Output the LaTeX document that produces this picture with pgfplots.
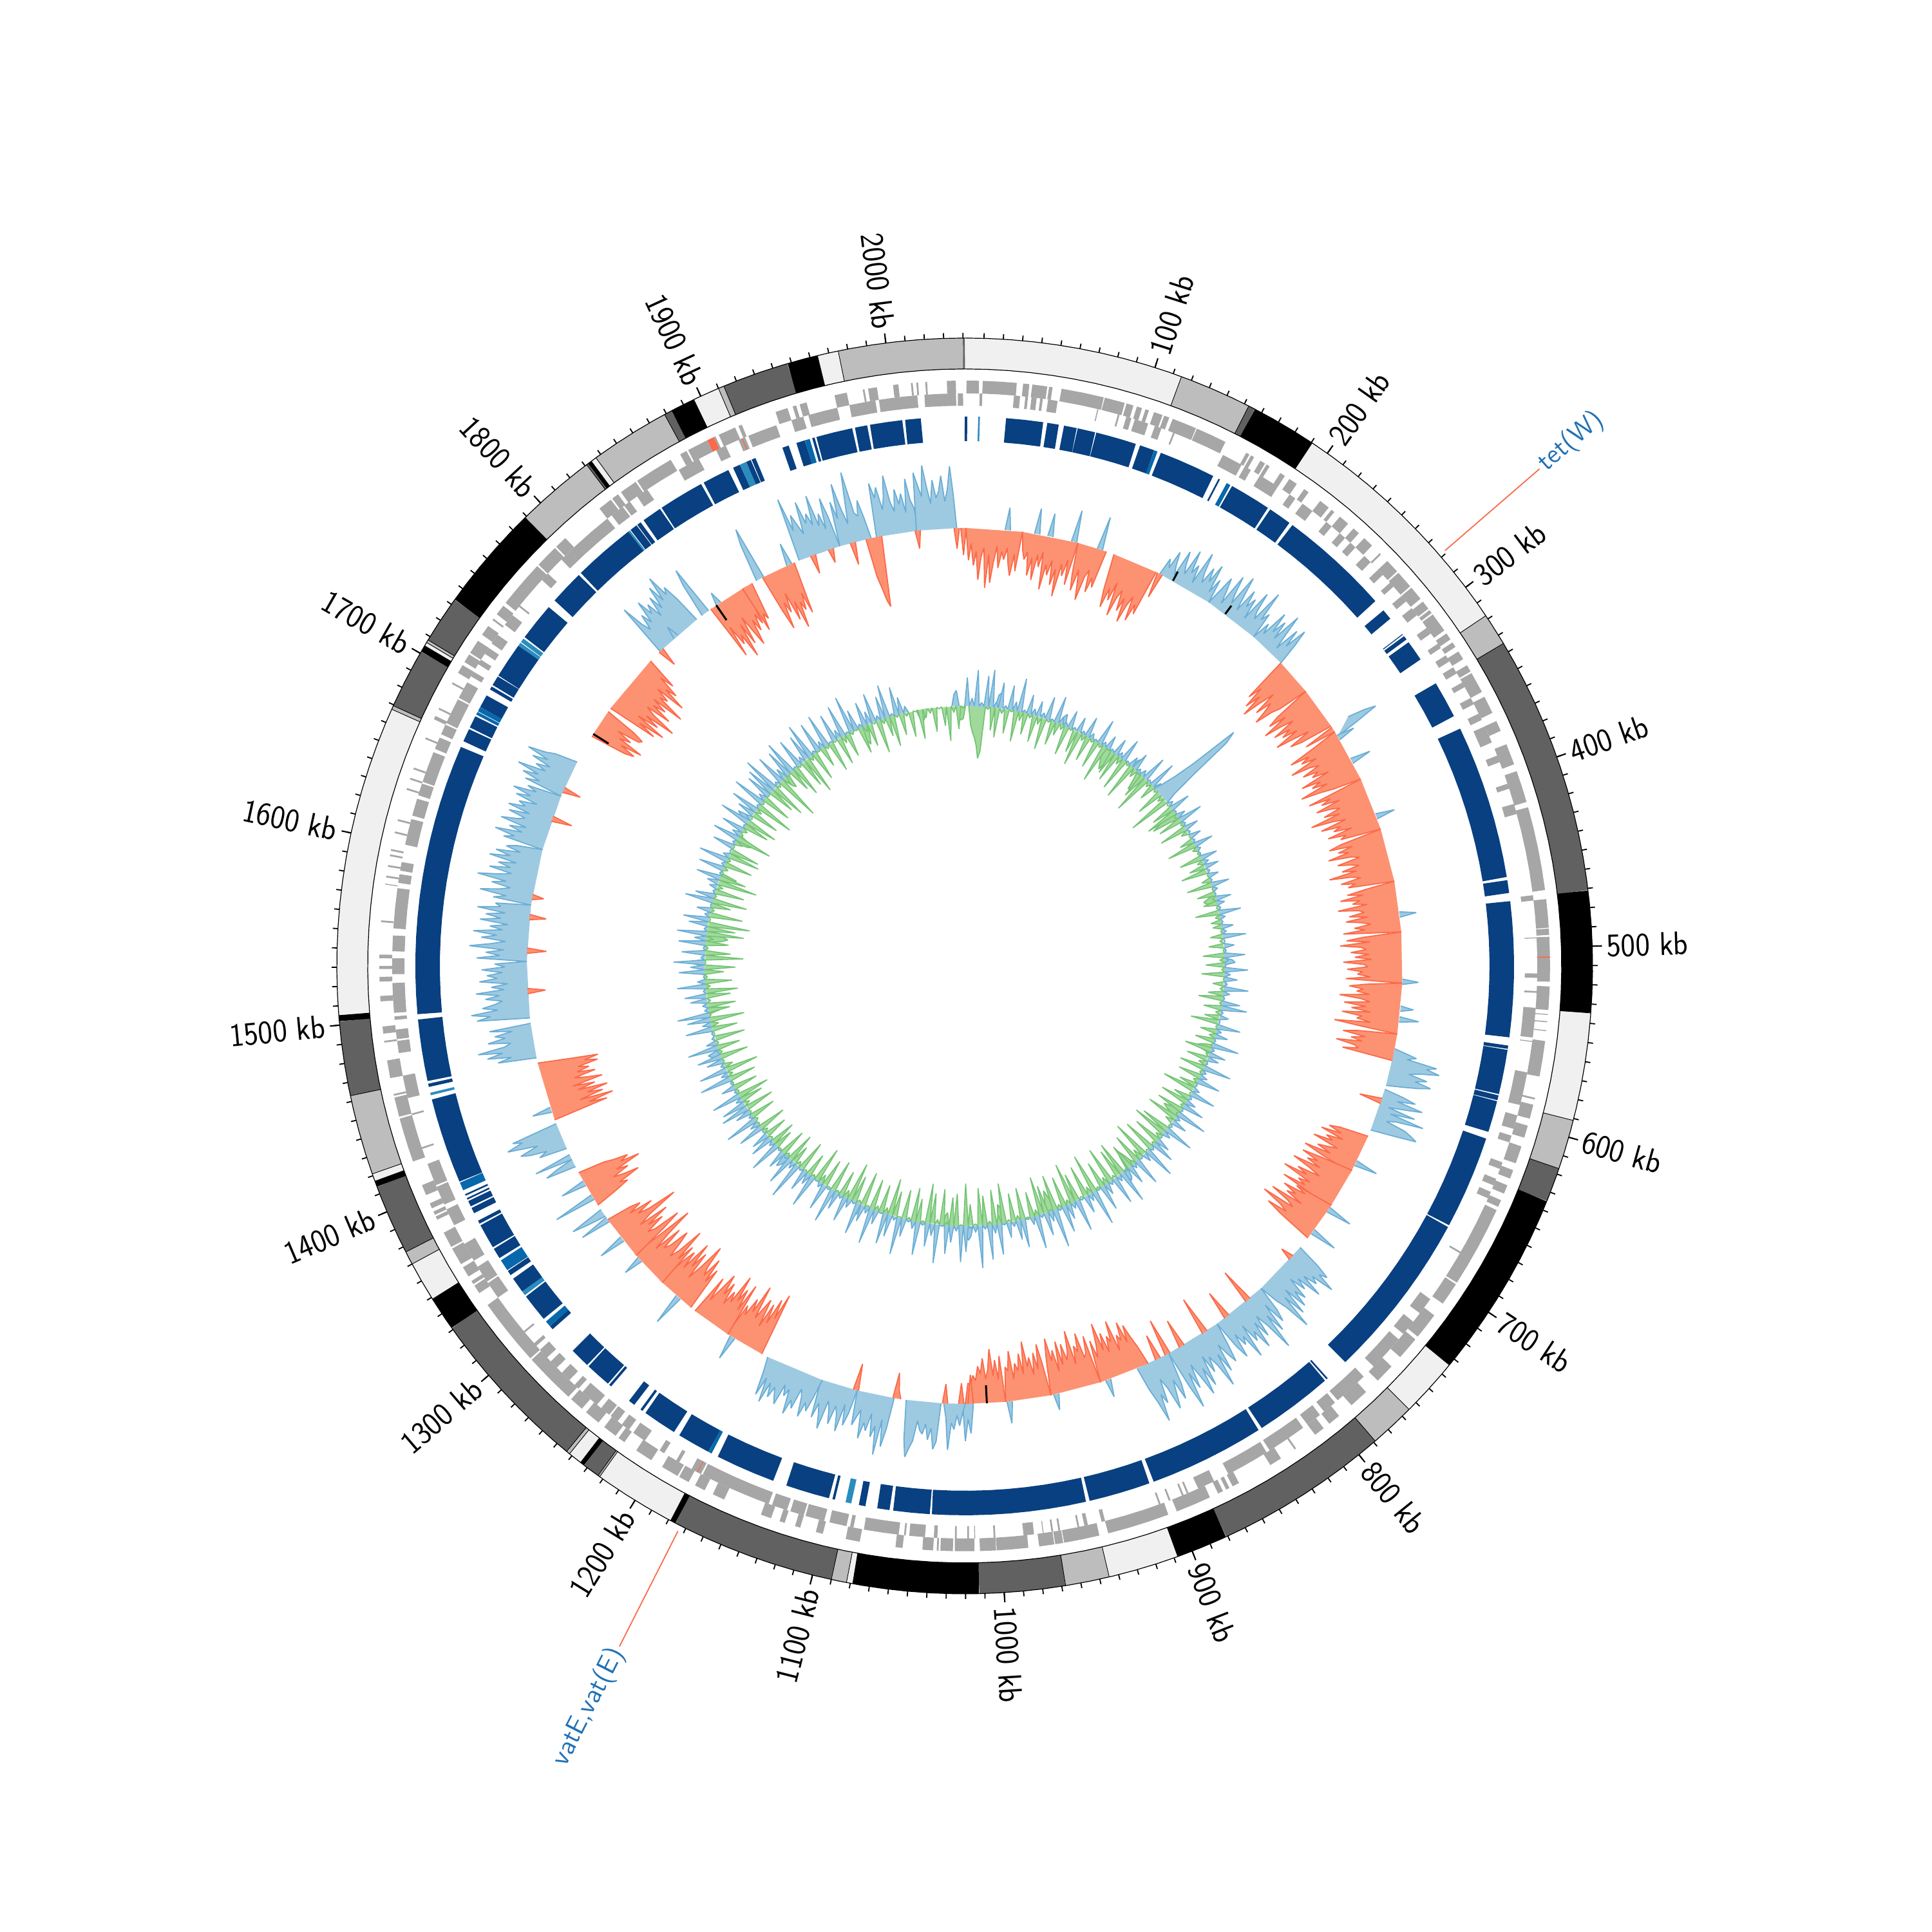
\documentclass[border=0pt]{standalone}
\usepackage{fontspec}
\usepackage{pgfplots}
\pgfplotsset{compat=1.18}
\usepgfplotslibrary{polar}
\def\k{0.176384}
\definecolor{bD}{HTML}{084081}\definecolor{bM}{HTML}{0868AC}\definecolor{bL}{HTML}{2B8CBE}
\definecolor{gene}{HTML}{A6A6A6}\definecolor{lbl}{HTML}{2171B5}
\definecolor{rF}{HTML}{FC9272}\definecolor{rL}{HTML}{FB6A4A}
\definecolor{uF}{HTML}{9ECAE1}\definecolor{uL}{HTML}{6BAED6}
\definecolor{gF}{HTML}{A1D99B}\definecolor{gL}{HTML}{74C476}
\def\collect#1 {\ifx e#1\else\pgfmathsetmacro\aa{90-\xx*\k}\pgfmathsetmacro\rr{\bb+\ss*#1}\xdef\lst{\lst(\aa,\rr)}\global\let\lastx\xx\pgfmathsetmacro\xx{\xx+\stp}\expandafter\collect\fi}
\newcommand\spk[6]{\xdef\lst{}\edef\bb{#1}\edef\ss{#2}\pgfmathsetmacro\xx{#5}\collect#6 e \edef\tmp{\noexpand\addplot[draw=#4,fill=#3,line width=.6pt,line join=bevel] coordinates {\lst};}\tmp}
\def\collz#1 {\ifx e#1\else\pgfmathsetmacro\aa{90-\xx*\k}\pgfmathsetmacro\rr{\bb+\ss*#1}\pgfmathsetmacro\xx{\xx+\stp}\pgfmathsetmacro\ab{90-\xx*\k}\xdef\lst{\lst(\aa,\rr)(\ab,\bb)}\global\let\lastx\xx\pgfmathsetmacro\xx{\xx+\stp}\expandafter\collz\fi}
\newcommand\spz[6]{\edef\bb{#1}\edef\ss{#2}\pgfmathsetmacro\xx{#5}\pgfmathsetmacro\aa{90-\xx*\k}\xdef\lst{(\aa,\bb)}\pgfmathsetmacro\xx{\xx+\stp}\collz#6 e \edef\tmp{\noexpand\addplot[draw=#4,fill=#3,line width=.55pt,line join=bevel] coordinates {\lst};}\tmp}
\newcommand\Rr[2]{\def\stp{2}\spk{680}{-1}{rF}{rL}{#1}{#2}}
\newcommand\Br[2]{\def\stp{2}\spk{680}{1}{uF}{uL}{#1}{#2}}
\newcommand\Ui[2]{\def\stp{3}\spk{404}{1}{uF}{uL}{#1}{#2}}
\newcommand\Gi[2]{\def\stp{3}\spk{404}{-1}{gF}{gL}{#1}{#2}}
\newcommand\Uz[2]{\def\stp{3}\spz{404}{1}{uF}{uL}{#1}{#2}}
\newcommand\Gz[2]{\def\stp{3}\spz{404}{-1}{gF}{gL}{#1}{#2}}
\def\blkc#1 #2 {\ifx e#1\else\pgfmathtruncatemacro\nn{max(1,ceil((#2-#1)/12))}\foreach\i in {0,...,\nn}{\pgfmathsetmacro\aa{90-(#1+(#2-#1)/\nn*\i)*\k}\xdef\lst{\lst(\aa,\RR)}}\xdef\lst{\lst(nan,nan)}\expandafter\blkc\fi}
\newcommand\blk[4]{\xdef\lst{}\edef\RR{#1}\blkc#4 e e \edef\tmp{\noexpand\addplot[draw=#3,line width=#2,line cap=butt] coordinates {\lst};}\tmp}
\def\radc#1 {\ifx e#1\else\pgfmathsetmacro\aa{90-#1*\k}\xdef\lst{\lst(\aa,\RA)(\aa,\RB)(nan,nan)}\expandafter\radc\fi}
\newcommand\rad[5]{\xdef\lst{}\edef\RA{#1}\edef\RB{#2}\radc#5 e \edef\tmp{\noexpand\addplot[draw=#4,line width=#3,line cap=butt] coordinates {\lst};}\tmp}
\newcommand\labR[1]{\pgfmathsetmacro\th{90-#1*\k}\edef\tmp{\noexpand\node[inner sep=0pt,anchor=west,rotate=\th] at (axis cs:\th,997) {\noexpand\sffamily\noexpand\fontsize{17}{18}\noexpand\selectfont\noexpand\scalebox{.93}[1]{#1 kb}};}\tmp}
\newcommand\labL[1]{\pgfmathsetmacro\th{90-#1*\k}\pgfmathsetmacro\tr{\th+180}\edef\tmp{\noexpand\node[inner sep=0pt,anchor=east,rotate=\tr] at (axis cs:\th,997) {\noexpand\sffamily\noexpand\fontsize{17}{18}\noexpand\selectfont\noexpand\scalebox{.93}[1]{#1 kb}};}\tmp}
\begin{document}
\begin{tikzpicture}
\begin{polaraxis}[hide axis,scale only axis,width=650pt,height=650pt,xmin=0,xmax=360,ymin=0,ymax=975,clip=false,unbounded coords=jump]
% ideogram bands
\blk{951}{16pt}{black!6}{0 114.5 190.5 318 534.6 591 734 765 908 945 1079 1082 1179 1222 1234.5 1241.6 1349 1370 1417 1421 1505 1667.5 1704.5 1706.5 1834 1837 1896 1910 1964 1975}
\blk{951}{16pt}{black!26}{114.5 152.5 318 335 591 617 765 789 945 968 1082 1090 1222 1223 1241.6 1243.5 1370 1377 1421 1463 1667.5 1669.5 1706.5 1708 1789 1831 1837 1879 1910 1913 1975 2040}
\blk{951}{16pt}{black!62}{152.5 156 335 471 617 635 789 881 968 1013 1090 1176 1223 1232 1243.5 1331 1377 1414 1463 1502 1669.5 1701 1708 1733 1831 1832 1879 1883 1913 1948 2040 2041}
\blk{951}{16pt}{black}{156 190.5 471 534.6 635 734 881 908 1013 1079 1176 1179 1232 1234.5 1331 1349 1414 1417 1502 1505 1701 1704.5 1733 1789 1832 1834 1883 1896 1948 1964}
\rad{927}{975}{.3pt}{black}{114.5 152.5 190.5 318 335 534.6 591 617 734 765 789 908 945 968 1082 1090 1222 1223 1241.6 1243.5 1349 1370 1377 1417 1421 1463 1505 1667.5 1669.5 1704.5 1706.5 1708 1789 1831 1834 1837 1879 1896 1910 1913 1964 1975}
\blk{975}{.4pt}{black}{0 2041}
\blk{927}{.4pt}{black}{0 2041}
% ticks
\xdef\lst{}\foreach\t in {10,20,...,2040}{\pgfmathsetmacro\aa{90-\t*\k}\xdef\lst{\lst(\aa,975)(\aa,983)(nan,nan)}}
\edef\tmp{\noexpand\addplot[draw=black,line width=.6pt] coordinates {\lst};}\tmp
\rad{975}{990}{.7pt}{black}{100 200 300 400 500 600 700 800 900 1000 1100 1200 1300 1400 1500 1600 1700 1800 1900 2000}
\labR{100}\labR{200}\labR{300}\labR{400}\labR{500}\labR{600}\labR{700}\labR{800}\labR{900}\labR{1000}
\labL{1100}\labL{1200}\labL{1300}\labL{1400}\labL{1500}\labL{1600}\labL{1700}\labL{1800}\labL{1900}\labL{2000}
% genes outer strand
\blk{899}{6.6pt}{gene}{1 8 10 29 32.5 36 37.6 46 47 49 54 78 78.5 90 91 95 97 100 102 104 107 112 113 116 118 132 132.5 150 163 165 166 168 172 175 176 178 185 188 191 196 201 204 212 218 220 222 226 232 236 240 244 250 256 257 262 270 271 281 282 290 292 297 298 300 301 312 314 318 320 323 326 331 335 339 340 352 355 365 370 376 384 396 400 418 421 468 473 489 489.5 493 494 519 521.6 534.7 537 537.5 541 541.6 546 546.5 552 572 584 585 588 596 600 607 612 622 626 631 635 640 644 648 650 696 697 710 718 733 735 748 755 766 775 786 795 802 806 812 825 826 835 842 862 866 868 870 872 875 880 900 905 940 945 965 965.5 970 970.5 979 985 1002.7 1003 1012 1015 1026 1027 1034 1035 1036 1038 1044 1055 1059 1079 1087 1100 1104 1113 1116 1122 1125 1130 1136 1158 1165 1170 1176 1180 1186 1187 1197 1204 1214 1222 1226 1228 1236 1240 1249 1252 1260 1262 1275 1275 1291 1292 1303 1303 1312 1312 1330 1338 1343 1344 1346 1349 1355 1357 1367 1368 1377 1385 1387 1388 1390 1392 1395 1400 1406 1420 1445 1446 1457 1458 1459 1468 1478 1488 1489 1493 1497 1511 1514 1522 1524.6 1529 1530.7 1535 1537 1555 1556 1576 1576.5 1580 1581 1586 1587 1592 1593 1595 1596 1605 1606 1612 1613 1630 1631 1636 1637 1642 1643 1660 1661 1672 1674 1678 1679 1694 1695 1701 1706 1708 1713 1714 1722 1726 1732 1736 1737 1740 1746 1748 1775 1776 1789 1790 1797 1822 1830 1831 1835 1837 1847 1848 1870 1876 1880 1881 1893 1897 1898 1900 1910 1912 1914 1934 1941 1944 1946 1948 1952 1968 1975 1984 1985 1987 1992 2001 2004 2011 2012 2014 2015 2019 2020 2031 2036}
% genes inner strand
\blk{879.5}{6.4pt}{gene}{8.5 10 28 31.5 34.5 36 38 41 43 44.5 47.5 53 76 76.6 88 89 93 96 98 106 110 114 121 122 152 164 166 170 176 188 196 200 205 212 222 226 232 236 240 244 251 256 262 266 272 275 282 286 291 296 305 309 316 319 324 328 332 336 342 345 352 356 362 366 370 380 388 392 405 408 417 423 470 473 494 494.5 514.5 517 524.5 525.5 534 551 553 553.5 571 590 596 604 608 612 624 628 634 638 642 646 680 681 712 722 728 737 741 762 770 790 792 800 803 812 815 838 840 865 874 884 890 891 893 894 901 902 907 908 940 942 950 952 955 956 966 967 970 971 975.5 976 981 987 1003 1004 1014.5 1015 1018 1019 1025 1026 1036 1038 1043 1052 1054 1055 1058 1078 1084 1086 1088 1098 1101 1112 1113 1121 1123 1132 1134 1148 1148 1175 1176 1182 1190 1192 1200 1203 1213 1221 1224 1229 1232 1237 1238 1244 1247 1258 1261 1264 1268 1274 1278 1283 1286 1292 1295 1297 1305 1306 1330 1340 1341 1351 1355 1366 1378 1388 1391 1402 1403 1416 1425 1426 1445 1446 1455 1460 1460 1468 1481 1488 1489 1494.5 1500 1502 1504 1521 1526 1535 1539 1548 1552 1575 1578 1583 1585 1590 1600 1615 1617 1627 1629 1636 1637 1655 1657 1664 1666 1672 1673 1688 1689 1699 1703 1706 1711 1714 1718 1722 1725 1731 1738 1745 1751 1752 1771 1776 1787 1822 1825 1833 1834 1838 1843 1850 1871 1879 1879 1884 1895 1901 1909 1913 1915 1932 1941 1948 1951 1968 1975 1986 1986 1990 1992 2006 2006 2014 2018 2036 2037 2040}
\blk{899}{6.6pt}{rL}{505 505.7 1893 1897}
\blk{879.5}{6.4pt}{rL}{1178 1178.5 1911 1911.5}
% contig blocks
\blk{834}{12.7pt}{bD}{0 1.5 24.4 46.7 49 56 59 66.8 67.2 78 78.5 103 105.5 114.5 118.5 152.6 156 157 165 190 191.5 205.5 207.5 274.4 281.5 288 299.5 300 301 303.5 305.5 318 334.6 357 365 457.5 459.2 467 471.7 552.7 557.5 559.5 560 586.8 587.5 590.5 591 610 614 670 671 772 786 787 788 835 837 906.5 909 946 948 1040 1041 1063 1065 1072.5 1079.5 1083.5 1098 1099.5 1101.5 1128 1136 1172 1178 1198 1201.5 1222 1224 1225.5 1230 1234 1247.5 1249 1250 1265.5 1266.5 1278.6 1296 1298.5 1304 1321 1324.5 1334 1336.5 1339.5 1348.5 1355 1356 1371 1372 1374 1379 1382.5 1383.5 1387 1388 1389 1390.5 1391.5 1399.5 1451 1458.5 1460.5 1462 1499 1502 1664 1667.5 1675.5 1676.5 1684 1690 1698 1702 1704 1705 1711 1711.5 1733 1739 1762 1767 1788 1789.5 1827 1828.5 1833 1833.5 1836 1838 1850 1851 1878.4 1880 1896.5 1899.5 1904 1908 1911 1911.5 1914 1931 1935 1939.7 1945 1949.5 1951 1952 1974 1975.5 1983 1984.5 2004 2005.5 2015}
\blk{834}{12.7pt}{bM}{114.5 116.5 161.5 164 1176 1178 1298.5 1302 1340 1347 1394 1399 1685 1686.8 1687.2 1690 1945 1948}
\blk{834}{12.7pt}{bL}{8 9 1088 1091.5 1322 1324.5 1453.5 1455 1733 1735 1735.5 1738 1827 1828 1904 1908}
% track A: blue outward
\Br{150}{0 28 15 44 22 9 52 30 18 60 25 40 12 66 35 20 48 27 58 14 38 0}
\Br{\lastx}{0 24 50 31 10 62 36 19 70 41 16 55 29 46 13 64 33 22 75 28 42 0}
\Br{\lastx}{0 30 14 58 26 49 20 68 37 12 52 24 60 34 0}
\Br{323}{30 58 75 40 0}
\Br{572}{0 18 36 22 70 55 76 47 30 60 42 68 50 26 0}
\Br{603}{0 30 52 24 66 40 14 58 20 75 32 18 50 62 72 36 0}
\Br{737}{0 40 62 50 80 44 56 34 70 30 48 22 58 40 66 28 72 36 90 48 30 0}
\Br{\lastx}{0 42 60 24 70 38 95 50 28 62 34 76 44 58 26 80 40 52 30 68 46 0}
\Br{\lastx}{0 35 64 48 28 72 40 92 54 36 60 30 78 46 88 56 32 70 42 98 60 0}
\Br{\lastx}{0 50 74 40 62 84 46 30 68 52 94 60 38 0}
\Br{1014}{0 46 24 58 0}
\Br{1020}{0 14 34 18 40 30 72 22 0}
\Br{1038}{0 60 72 40 58 34 50 44 30 62 74 88 60 0}
\Br{1073}{0 50 78 36 92 48 66 30 58 46 72 28 40 54 0}
\Br{1101}{0 38 58 26 70 44 32 62 40 28 74 52 36 60 0}
\Br{1128}{0 30 54 42 66 36 24 58 46 70 32 44 28 62 50 38 56 34 68 30 60 24 0}
\Br{1333}{0 30 55 0}
\Br{1391}{0 44 30 56 70 40 62 86 60 74 0}
\Br{1462}{0 60 38 75 50 88 45 35 70 42 58 30 65 0}
\Br{1492}{0 82 60 90 48 72 52 40 66 44 80 36 56 30 74 46 62 38 70 34 50 0}
\Br{\lastx}{0 78 42 64 36 90 56 34 72 48 85 40 60 32 76 44 68 38 82 46 55 0}
\Br{\lastx}{0 60 40 82 52 36 66 44 90 58 38 74 42 62 34 78 46 70 32 56 40 0}
\Br{\lastx}{0 64 48 80 38 60 34 76 52 40 68 36 72 46 58 30 66 44 74 38 54 0}
\Br{\lastx}{0 62 40 70 46 82 38 56 34 66 42 78 50 36 0}
\Br{1791}{0 85 50 35 60 42 78 52 66 40 72 48 84 56 95 60 70 44 0}
\Br{1832}{0 55 80 0}
\Br{1915}{0 100 46 70 52 36 86 50 64 44 90 40 58 32 80 48 0}
\Br{1947}{0 70 42 96 54 30 68 110 44 38 62 34 0}
\Br{1975}{0 84 60 76 40 58 92 50 34 68 44 60 30 82 48 36 0}
\Br{2005}{0 90 70 52 100 66 40 76 48 58 82 42 60 96 52 0}
% track A: red inward
\Rr{1}{0 50 24 58 36 80 44 30 92 40 84 52 26 60 34 46 28 54 70 36 62 0}
\Rr{\lastx}{0 28 42 30 66 38 72 32 50 26 84 44 60 36 74 48 90 38 56 30 68 0}
\Rr{\lastx}{0 50 74 40 62 86 48 36 70 46 60 0}
\Rr{113}{0 58 84 52 70 40 92 62 48 80 58 95 66 50 88 60 74 0}
\Rr{262}{0 72 50 85 60 96 66 42 80 54 70 90 62 48 0}
\Rr{290}{0 60 78 50 92 64 44 82 56 72 48 88 60 34 70 52 0}
\Rr{327}{0 40 85 55 70 46 92 62 48 78 54 66 40 88 58 74 50 96 66 44 0}
\Rr{\lastx}{0 90 56 72 44 84 60 48 76 52 100 66 46 88 58 70 42 82 54 64 0}
\Rr{\lastx}{0 66 86 50 74 58 92 56 44 80 62 48 76 54 98 64 50 82 60 72 0}
\Rr{\lastx}{0 46 76 52 88 58 70 48 94 62 54 78 50 84 60 46 72 56 90 0}
\Rr{\lastx}{0 60 86 50 96 64 56 80 52 74 48 92 60 54 86 62 70 50 88 0}
\Rr{\lastx}{0 56 82 60 70 50 96 62 48 88 54 76 46 90 58 66 44 100 60 0}
\Rr{\lastx}{0 60 84 48 70 52 92 62 56 80 0}
\Rr{640}{0 46 62 40 72 34 60 48 78 36 50 66 42 84 56 0}
\Rr{668}{0 50 82 54 70 46 90 60 40 76 58 96 48 66 52 88 0}
\Rr{698}{0 62 44 80 56 70 40 92 60 48 100 66 52 84 58 0}
\Rr{880}{0 30 48 70 44 78 50 60 36 86 54 64 40 72 46 90 58 38 66 0}
\Rr{\lastx}{0 76 50 44 84 56 66 38 92 60 48 74 42 80 34 68 52 88 58 0}
\Rr{\lastx}{0 52 82 44 70 36 64 50 90 40 72 46 58 34 78 48 54 0}
\Rr{\lastx}{0 72 36 66 42 84 52 38 70 46 58 36 44 30 32 0}
\Rr{1177}{0 100 58 88 46 76 36 80 62 44 96 50 70 40 54 0}
\Rr{1206}{0 86 40 74 52 92 44 60 36 70 48 80 54 28 66 0}
\Rr{1240}{0 70 46 84 52 66 100 60 34 78 50 90 40 68 48 0}
\Rr{1268}{0 72 44 96 54 38 64 82 50 40 76 30 60 104 46 0}
\Rr{1296}{0 60 92 50 38 70 46 84 36 58 108 62 44 72 34 56 40 0}
\Rr{1343}{0 36 60 48 84 60 44 72 54 96 66 80 58 42 0}
\Rr{1414}{0 88 60 100 48 86 62 96 50 78 44 92 68 50 84 56 76 60 92 72 94 48 0}
\Rr{1710}{0 58 72 46 80 38 56 30 66 70 52 0}
\Rr{1735}{0 80 50 92 42 76 52 100 60 44 84 50 70 44 96 50 62 38 86 48 66 30 52 0}
\Rr{1840}{0 90 40 74 60 100 46 82 38 66 90 50 70 44 62 0}
\Rr{1868}{0 76 50 60 0}
\Rr{1885}{0 60 92 50 68 38 84 56 100 60 74 48 82 0}
\Rr{1967}{0 60 80 100 110 60 0}
% small opposite spikes
\Rr{148}{0 40 0}\Rr{323}{0 50 0}\Rr{610}{0 35 0}\Rr{745}{0 20 0}\Rr{790}{0 55 0}\Rr{810}{0 45 0}\Rr{830}{0 60 0}\Rr{850}{0 45 0}\Rr{862}{0 58 0}\Rr{870}{0 40 0}\Rr{1014}{0 45 0}\Rr{1021}{0 32 0}\Rr{1033}{0 30 0}\Rr{1068}{0 12 40 0}\Rr{1100}{0 42 0}\Rr{1510}{0 28 0}\Rr{1540}{0 30 0}\Rr{1565}{0 26 0}\Rr{1580}{0 18 0}\Rr{1640}{0 32 0}\Rr{1663}{0 28 0}\Rr{1790}{0 30 0}\Rr{1924}{0 30 0}\Rr{1938}{0 22 0}\Rr{1955}{0 35 0}\Rr{2004}{0 28 0}\Rr{2033}{0 32 0}\Rr{2038}{0 42 0}
\Br{30}{0 35 0}\Br{52}{0 40 0}\Br{62}{0 36 0}\Br{80}{0 50 0}\Br{100}{0 52 0}\Br{330}{0 28 0}\Br{350}{0 32 0}\Br{395}{0 30 0}\Br{470}{0 26 0}\Br{520}{0 25 0}\Br{540}{0 20 0}\Br{548}{0 30 0}\Br{660}{0 36 0}\Br{700}{0 40 0}\Br{720}{0 42 0}\Br{910}{0 28 0}\Br{950}{0 25 0}\Br{985}{0 34 0}\Br{1200}{0 38 0}\Br{1250}{0 50 0}\Br{1290}{0 30 0}\Br{1310}{0 42 0}\Br{1328}{0 48 0}\Br{1348}{0 66 0}\Br{1360}{0 40 0}\Br{1376}{0 48 28 0}\Br{1382}{0 60 0}\Br{1420}{0 30 0}\Br{1805}{0 20 0}\Br{1845}{0 20 0}\Br{1880}{0 60 85 0}\Br{1905}{0 35 0}
\rad{680}{696}{1pt}{black}{161 207}
\rad{652}{680}{1pt}{black}{1004 1712 1845}
% track B: patches at the base
\Gi{5}{0 30 42 50 62 81 70 0}
\Gi{2030}{0 18 22 20 0}
\Gi{185}{0 18 26 34 20 0}\Gi{236}{0 14 30 22 0}\Gi{300}{0 14 26 44 16 0}\Gi{420}{0 12 20 16 0}\Gi{610}{0 16 24 14 0}\Gi{700}{0 14 28 20 0}\Gi{790}{0 18 30 22 0}\Gi{905}{0 22 34 18 0}\Gi{970}{0 24 30 0}\Gi{1040}{0 20 14 0}\Gi{1470}{0 16 22 0}\Gi{1560}{0 24 34 26 0}\Gi{1640}{0 18 26 0}\Gi{1690}{0 20 28 16 0}\Gi{1790}{0 16 22 0}\Gi{1905}{0 22 30 18 0}\Gi{1980}{0 14 20 14 0}
\Ui{38}{0 20 24 0}\Ui{120}{0 12 18 0}\Ui{225}{0 14 20 0}\Ui{500}{0 12 16 0}\Ui{800}{0 14 18 0}\Ui{1010}{0 16 22 14 0}\Ui{1150}{0 14 20 0}\Ui{1260}{0 16 22 0}\Ui{1415}{0 14 18 0}\Ui{1530}{0 16 20 0}\Ui{1720}{0 14 22 0}\Ui{2025}{0 18 24 0}
% track B: blue outward peaks
\Uz{0}{44 12 56 6 48 58 9 40}
\Uz{\lastx}{5 38 14 52 4 30 10 24}
\Uz{\lastx}{8 36 3 42 12 6 28 4}
\Uz{\lastx}{24 5 32 9 3 40 7 22}
\Uz{\lastx}{4 26 8 36 3 16 28 6}
\Uz{\lastx}{10 40 4 44 12}
\Ui{266}{0 14 35 70 149 130 60 18 0}
\Uz{290}{8 32 3 14 38 5 22 4}
\Uz{\lastx}{18 4 30 6 2 26 9 22}
\Uz{\lastx}{5 16 3 28 7 2 24 12}
\Uz{\lastx}{4 34 8 3 18 6 36 2}
\Uz{\lastx}{16 3 32 6 2 36 9 20}
\Uz{\lastx}{5 38 10 3 28 40 4 14}
\Uz{\lastx}{2 36 8 20 3 42 6 26}
\Uz{\lastx}{18 3 44 7 12 36 2 10}
\Uz{\lastx}{40 5 16 34 3 48 8 24}
\Uz{\lastx}{4 46 12 2 22 36 6 50}
\Uz{\lastx}{14 3 44 8 30 2 52 10}
\Uz{\lastx}{44 6 18 40 2 56 12 28}
\Uz{\lastx}{3 50 10 24 42 4 60 16}
\Uz{\lastx}{36 5 52 12 2 44 30 8}
\Uz{\lastx}{24 3 48 14 54 6 66 10}
\Uz{\lastx}{4 40 56 8 26 44 2 60}
\Uz{\lastx}{18 36 4 52 12 3 28 58}
\Uz{\lastx}{6 34 48 2 22 56 10 26}
\Uz{\lastx}{50 4 14 40 6 28 54 3}
\Uz{\lastx}{42 8 2 52 18 34 4 60}
\Uz{\lastx}{12 46 5 30 3 50 8 36}
\Uz{\lastx}{28 2 40 14 52 6 24 44}
\Uz{\lastx}{38 10 46 4 22 3 50 12}
\Uz{\lastx}{44 6 26 38 2 48 16 5}
\Uz{\lastx}{3 42 14 36 50 6 8 26}
\Uz{\lastx}{34 4 44 12 2 40 22 48}
\Uz{\lastx}{6 36 3 42 18 46 5 30}
\Uz{\lastx}{40 8 22 2 44 30 4 12}
\Uz{\lastx}{18 38 3 40 6 46 10 2}
\Uz{\lastx}{34 5 42 14 36 3 48 8}
\Uz{\lastx}{28 44 4 52 12 40 46 58}
\Uz{\lastx}{6 48 18 44 54 3 46 10}
\Uz{\lastx}{42 56 5 48 12 52 2 44}
\Uz{\lastx}{14 50 3 58 32 6 38 20}
\Uz{\lastx}{46 8 36 52 4 44 26 10}
% track B: green inward peaks
\Gz{26}{4 36 46 8 38 3 48 14}
\Gz{\lastx}{34 6 42 12 50 4 38 20}
\Gz{\lastx}{8 46 3 36 54 10 40 5}
\Gz{\lastx}{44 6 60 2 38 46 12 52}
\Gz{\lastx}{4 58 14 3 40 62 8 26}
\Gz{\lastx}{5 42 10 66 3 36 50 6}
\Gz{\lastx}{38 4 44 12 2 22 46 8}
\Gz{\lastx}{3 36 10 26 42 2 14 40}
\Gz{\lastx}{2 28 6 22 3 38 8 16}
\Gz{\lastx}{14 3 20 6 24 2 34 8}
\Gz{\lastx}{30 5 36 2 18 6 24 38}
\Gz{\lastx}{4 28 8 24 44 3 26 10}
\Gz{\lastx}{30 2 42 6 34 12 40 4}
\Gz{\lastx}{36 8 28 52 3 26 44 6}
\Gz{\lastx}{42 4 50 14 2 46 56 10}
\Gz{\lastx}{44 5 52 3 60 16 48 8}
\Gz{\lastx}{40 2 54 46 6 58 12 42}
\Gz{\lastx}{4 62 12 50 3 44 64 8}
\Gz{\lastx}{48 6 56 3 44 60 10 40}
\Gz{\lastx}{2 50 8 44 4 62 14 54}
\Gz{\lastx}{6 46 58 3 34 66 2 50}
\Gz{\lastx}{44 5 56 8 48 62 3 36}
\Gz{\lastx}{52 4 46 2 40 58 10 44}
\Gz{\lastx}{8 48 3 54 6 42 60 12}
\Gz{\lastx}{40 4 50 2 44 14 56 5}
\Gz{\lastx}{36 3 48 8 30 46 6 42}
\Gz{\lastx}{2 30 40 5 36 8 44 3}
\Gz{\lastx}{6 40 3 46 10 36 50 4}
\Gz{\lastx}{38 2 42 8 52 14 3 44}
\Gz{\lastx}{5 36 4 48 2 40 12 54}
\Gz{\lastx}{3 34 44 6 38 50 8 42}
\Gz{\lastx}{4 30 48 2 60 40 5 36}
\Gz{\lastx}{12 58 44 66 3 52 6 30}
\Gz{\lastx}{54 4 46 10 62 42 3 8}
\Gz{\lastx}{44 6 50 46 2 12 56 5}
\Gz{\lastx}{8 40 50 3 44 10 60 4}
\Gz{\lastx}{46 2 42 56 6 70 12 3}
\Gz{\lastx}{36 50 4 44 60 8 46 2}
\Gz{\lastx}{32 6 48 3 44 12 38 5}
\Gz{\lastx}{2 42 10 36 3 52 8 30}
\Gz{\lastx}{48 4 34 6 40 2 46 14}
\Gz{\lastx}{8 38 3 30 54 10 36 4}
% annotations
\addplot[draw=rL,line width=.6pt] coordinates {(40.85,986)(40.85,1180)};
\node[inner sep=0pt,anchor=west,rotate=40.85,text=lbl] at (axis cs:40.85,1185) {\sffamily\fontsize{14}{16}\selectfont tet(W)};
\addplot[draw=rL,line width=.6pt] coordinates {(-116.9,984)(-116.9,1185)};
\node[inner sep=0pt,anchor=east,rotate=63.1,text=lbl] at (axis cs:-116.9,1190) {\sffamily\fontsize{14}{16}\selectfont vatE,vat(E)};
\path (axis cs:44.96,2122.7) (axis cs:225.04,2120);
\end{polaraxis}
\end{tikzpicture}
\end{document}
